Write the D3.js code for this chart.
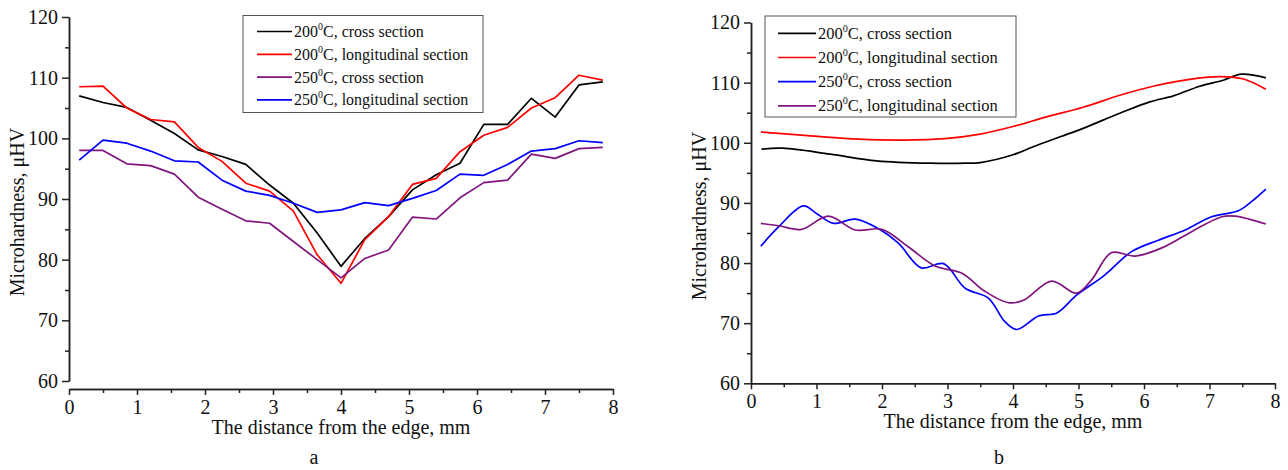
<!DOCTYPE html>
<html>
<head>
<meta charset="utf-8">
<script src="https://cdn.jsdelivr.net/npm/d3@7"></script>
<style>
  body { margin: 0; background: #fff; }
  text { font-family: "Liberation Serif", "Times New Roman", serif; fill: #111; }
</style>
</head>
<body>
<div id="chart"></div>
<script>
// ---- data ----

// axis ticks
var xTicks = [0, 1, 2, 3, 4, 5, 6, 7, 8];
var xMinorTicks = [0.5, 1.5, 2.5, 3.5, 4.5, 5.5, 6.5, 7.5];
var yTicks = [60, 70, 80, 90, 100, 110, 120];
var yMinorTicks = [65, 75, 85, 95, 105, 115];

// panel a: measured points (polyline)
var xA = [0.15, 0.5, 0.85, 1.2, 1.55, 1.9, 2.25, 2.6, 2.95, 3.3, 3.65, 4.0,
          4.35, 4.7, 5.05, 5.4, 5.75, 6.1, 6.45, 6.8, 7.15, 7.5, 7.85];
var a200Cross = [107.0, 105.9, 105.1, 103.0, 100.8, 98.1, 97.0, 95.7, 92.3, 89.3, 84.4, 78.9,
                 83.5, 87.1, 91.5, 94.0, 95.9, 102.3, 102.3, 106.6, 103.5, 108.8, 109.3];
var a200Long = [108.5, 108.6, 105.0, 103.1, 102.7, 98.5, 96.2, 92.6, 91.3, 88.0, 80.8, 76.1,
                83.3, 87.1, 92.4, 93.4, 97.8, 100.5, 101.8, 105.0, 106.7, 110.4, 109.6];
var a250Cross = [98.0, 98.0, 95.8, 95.5, 94.1, 90.3, 88.3, 86.4, 86.0, 83.0, 80.0, 77.0,
                 80.2, 81.6, 87.0, 86.7, 90.2, 92.7, 93.1, 97.4, 96.7, 98.3, 98.5];
var a250Long = [96.4, 99.7, 99.2, 97.9, 96.3, 96.1, 93.1, 91.3, 90.6, 89.3, 87.8, 88.2,
                89.4, 88.9, 90.1, 91.4, 94.1, 93.9, 95.7, 97.9, 98.3, 99.6, 99.3];

// panel b: smoothed curves, points picked along each curve
var xB200Cross = [0.16, 0.49, 1.21, 1.92, 2.73, 3.29, 3.5, 4.0, 4.31, 4.72, 5.07, 5.63, 6.09, 6.45, 6.85, 7.21, 7.49, 7.86];
var b200Cross = [98.95, 99.1, 98.1, 97.0, 96.6, 96.6, 96.7, 98.0, 99.35, 101.0, 102.4, 104.9, 106.8, 107.8, 109.4, 110.4, 111.4, 110.8];

var xB200Long = [0.15, 0.96, 1.65, 2.33, 2.96, 3.5, 4.0, 4.51, 5.07, 5.63, 6.14, 6.8, 7.16, 7.52, 7.86];
var b200Long = [101.8, 101.1, 100.6, 100.45, 100.7, 101.45, 102.7, 104.3, 105.9, 107.9, 109.4, 110.7, 111.0, 110.6, 108.9];

var xB250Cross = [0.15, 0.42, 0.8, 1.0, 1.26, 1.59, 1.94, 2.25, 2.6, 2.94, 3.27, 3.62, 3.88, 4.06,
                  4.39, 4.67, 4.97, 5.4, 5.81, 6.22, 6.63, 7.03, 7.44, 7.64, 7.86];
var b250Cross = [82.8, 86.0, 89.5, 88.25, 86.6, 87.3, 85.75, 83.3, 79.2, 79.9, 75.8, 74.2, 70.2, 68.95,
                 71.2, 71.7, 74.65, 78.0, 81.9, 83.8, 85.5, 87.7, 88.7, 90.2, 92.3];

var xB250Long = [0.15, 0.42, 0.77, 1.18, 1.59, 2.0, 2.4, 2.81, 3.22, 3.57, 3.93, 4.16,
                 4.59, 4.97, 5.2, 5.5, 5.87, 6.3, 6.74, 7.19, 7.39, 7.86];
var b250Long = [86.6, 86.2, 85.6, 87.8, 85.5, 85.6, 82.7, 79.5, 78.3, 75.3, 73.4, 73.8,
                77.0, 75.0, 77.2, 81.7, 81.15, 82.65, 85.3, 87.7, 87.8, 86.5];

// legend labels (temperature, section)
var labelTemps = ['200', '200', '250', '250'];
var labelSections = ['cross section', 'longitudinal section', 'cross section', 'longitudinal section'];

var xTitle = 'The distance from the edge, mm';
var yTitle = 'Microhardness, \u03bcHV';

var black = '#000000', red = '#ff0000', blue = '#0000ff', purple = '#80157f';

// ---- svg ----
var svgWidth = 1288;
var svgHeight = 470;

var svg = d3.select('#chart')
  .append('svg')
  .attr('width', svgWidth)
  .attr('height', svgHeight);

function zip(xs, ys) {
  return xs.map(function (x, i) { return { x: x, y: ys[i] }; });
}

// draws one panel
function drawPanel(p) {
  var xScale = d3.scaleLinear().domain([0, 8]).range([p.left, p.right]);
  var yScale = d3.scaleLinear().domain([60, 120]).range([p.bottom, p.top]);

  var g = svg.append('g');

  // y axis: minor then major
  g.append('g')
    .attr('class', 'axis')
    .attr('transform', `translate(${p.left},0)`)
    .call(d3.axisLeft(yScale).tickValues(yMinorTicks).tickSize(4).tickSizeOuter(0).tickFormat(''));
  g.append('g')
    .attr('class', 'axis')
    .attr('transform', `translate(${p.left},0)`)
    .call(d3.axisLeft(yScale).tickValues(yTicks).tickSize(7).tickSizeOuter(0).tickPadding(4));

  // x axis
  g.append('g')
    .attr('class', 'axis')
    .attr('transform', `translate(0,${p.xAxisY})`)
    .call(d3.axisBottom(xScale).tickValues(xMinorTicks).tickSize(4).tickSizeOuter(0).tickFormat(''));
  g.append('g')
    .attr('class', 'axis')
    .attr('transform', `translate(0,${p.xAxisY})`)
    .call(d3.axisBottom(xScale).tickValues(xTicks).tickSize(6).tickSizeOuter(0).tickPadding(5));

  g.selectAll('.axis path, .axis line')
    .attr('stroke', '#222')
    .attr('stroke-width', 1.5);
  g.selectAll('.axis text')
    .attr('font-family', '"Liberation Serif", serif')
    .attr('font-size', 20)
    .attr('fill', '#111');

  // axis titles
  g.append('text')
    .attr('x', xScale(4))
    .attr('y', p.xAxisY + 45)
    .attr('text-anchor', 'middle')
    .attr('font-size', 20)
    .text(xTitle);

  g.append('text')
    .attr('transform', `translate(${p.yTitleX},${p.yTitleY}) rotate(-90)`)
    .attr('text-anchor', 'middle')
    .attr('dy', '0.35em')
    .attr('font-size', 20)
    .text(yTitle);

  // panel letter
  g.append('text')
    .attr('x', p.letterX)
    .attr('y', 464)
    .attr('text-anchor', 'middle')
    .attr('font-size', 20)
    .text(p.letter);

  // lines
  var line = d3.line()
    .x(d => xScale(d.x))
    .y(d => yScale(d.y))
    .curve(p.curve);

  p.series.forEach(function (s) {
    g.append('path')
      .datum(s.points)
      .attr('fill', 'none')
      .attr('stroke', s.color)
      .attr('stroke-width', 1.7)
      .attr('stroke-linejoin', 'round')
      .attr('d', line);
  });

  // legend
  var lg = p.legend;
  g.append('rect')
    .attr('x', lg.x)
    .attr('y', lg.y)
    .attr('width', lg.w)
    .attr('height', lg.h)
    .attr('fill', '#fff')
    .attr('stroke', '#555')
    .attr('stroke-width', 1);

  p.series.forEach(function (s, i) {
    var ly = lg.y + lg.first + i * lg.step;
    g.append('line')
      .attr('x1', lg.x + lg.lineStart)
      .attr('x2', lg.x + lg.lineEnd)
      .attr('y1', ly)
      .attr('y2', ly)
      .attr('stroke', s.color)
      .attr('stroke-width', 1.7);
    var t = g.append('text')
      .attr('x', lg.x + lg.lineEnd + 2)
      .attr('y', ly + 5.5)
      .attr('font-size', lg.fontSize);
    t.append('tspan').text(s.temp);
    t.append('tspan').attr('dy', -7).attr('font-size', lg.fontSize * 0.62).text('0');
    t.append('tspan').attr('dy', 7).text('C, ' + s.section);
  });
}

// panel a
drawPanel({
  left: 69, right: 613, top: 17, bottom: 381, xAxisY: 389,
  yTitleX: 17, yTitleY: 212, letter: 'a', letterX: 314,
  curve: d3.curveLinear,
  legend: { x: 243, y: 15.5, w: 240, h: 97, first: 16, step: 22.8, lineStart: 14, lineEnd: 49, fontSize: 16 },
  series: [
    { color: black, temp: labelTemps[0], section: labelSections[0], points: zip(xA, a200Cross) },
    { color: red, temp: labelTemps[1], section: labelSections[1], points: zip(xA, a200Long) },
    { color: purple, temp: labelTemps[2], section: labelSections[2], points: zip(xA, a250Cross) },
    { color: blue, temp: labelTemps[3], section: labelSections[3], points: zip(xA, a250Long) }
  ]
});

// panel b
drawPanel({
  left: 751, right: 1275, top: 22.5, bottom: 383.3, xAxisY: 383.3,
  yTitleX: 699, yTitleY: 216, letter: 'b', letterX: 999,
  curve: d3.curveCatmullRom.alpha(0.5),
  legend: { x: 765, y: 16, w: 251, h: 101, first: 17.3, step: 24.2, lineStart: 13, lineEnd: 51, fontSize: 16.5 },
  series: [
    { color: black, temp: labelTemps[0], section: labelSections[0], points: zip(xB200Cross, b200Cross) },
    { color: red, temp: labelTemps[1], section: labelSections[1], points: zip(xB200Long, b200Long) },
    { color: blue, temp: labelTemps[2], section: labelSections[2], points: zip(xB250Cross, b250Cross) },
    { color: purple, temp: labelTemps[3], section: labelSections[3], points: zip(xB250Long, b250Long) }
  ]
});
</script>
</body>
</html>
